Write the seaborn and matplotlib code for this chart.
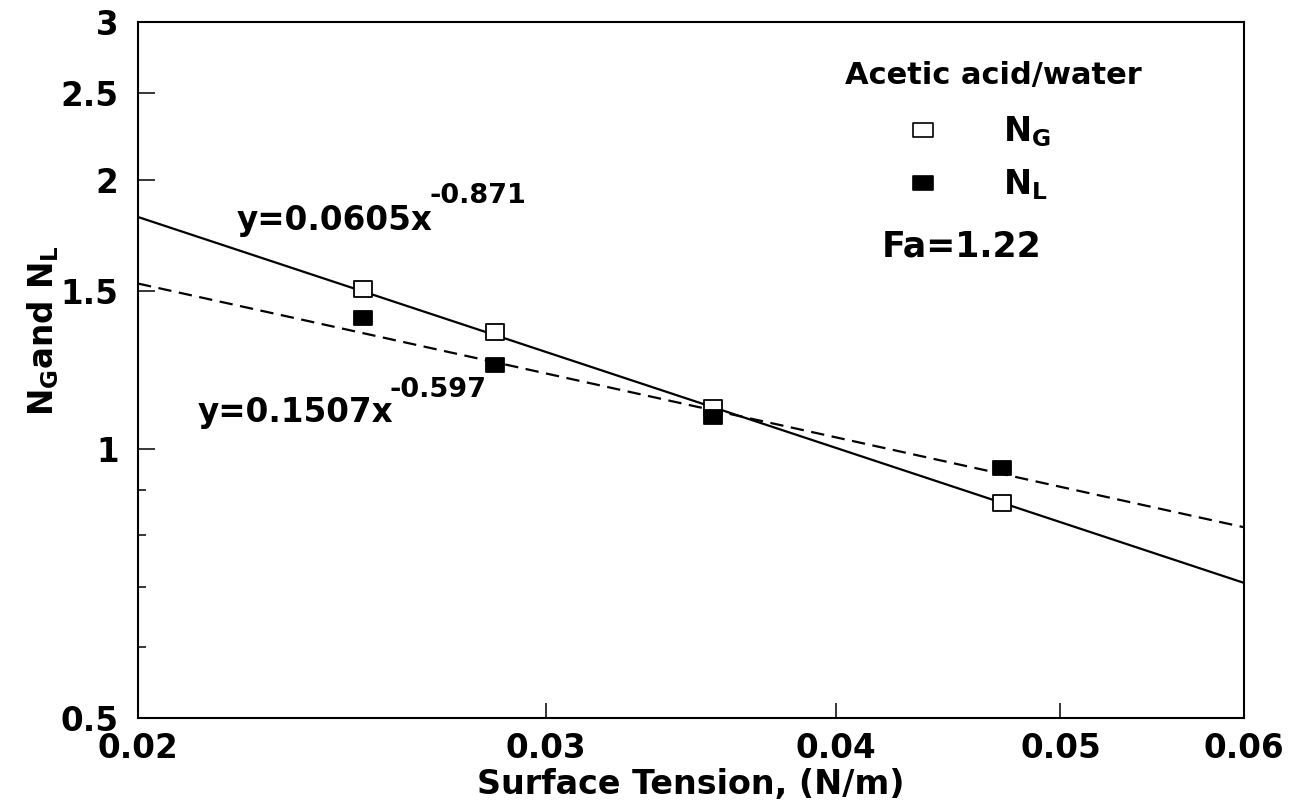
import numpy as np
import pandas as pd
import matplotlib
matplotlib.use("Agg")
import matplotlib.pyplot as plt
import seaborn as sns
from matplotlib.lines import Line2D
from matplotlib.path import Path
from matplotlib.ticker import FixedLocator, FixedFormatter, NullLocator, NullFormatter

# ---------------- data ----------------
surface_tension = [0.0250, 0.0285, 0.0354, 0.0472]
n_g = [1.51, 1.35, 1.11, 0.870]
n_l = [1.40, 1.24, 1.085, 0.951]

fit_x = [0.02, 0.06]
fit_g = [1.816, 0.708]   # y=0.0605x^-0.871
fit_l = [1.53, 0.817]    # y=0.1507x^-0.597

x_ticks = [0.02, 0.03, 0.04, 0.05, 0.06]
x_tick_labels = ["0.02", "0.03", "0.04", "0.05", "0.06"]
y_ticks = [0.5, 1, 1.5, 2, 2.5, 3]
y_tick_labels = ["0.5", "1", "1.5", "2", "2.5", "3"]
y_minor_ticks = [0.6, 0.7, 0.8, 0.9]

# ---------------- style ----------------
sns.set_theme(style="white")
plt.rcParams["font.family"] = ["DejaVu Sans"]
plt.rcParams["font.weight"] = "bold"
plt.rcParams["axes.labelweight"] = "bold"
plt.rcParams["text.color"] = "black"
plt.rcParams["axes.labelcolor"] = "black"
plt.rcParams["xtick.color"] = "black"
plt.rcParams["ytick.color"] = "black"
plt.rcParams["legend.labelcolor"] = "black"
plt.rcParams["mathtext.fontset"] = "dejavusans"
plt.rcParams["mathtext.default"] = "bf"

W, H = 1299, 805
fig = plt.figure(figsize=(W / 100, H / 100), dpi=100)
fig.patch.set_facecolor("white")
ax = fig.add_axes([138 / W, 1 - 718 / H, 1106 / W, 696 / H])
ax.set_facecolor("white")

# ---------------- fitted lines ----------------
fit_df = pd.DataFrame({
    "x": fit_x + fit_x,
    "y": fit_g + fit_l,
    "series": ["N_G"] * len(fit_x) + ["N_L"] * len(fit_x),
})
sns.lineplot(data=fit_df, x="x", y="y", style="series",
             dashes={"N_G": "", "N_L": (6, 3.4)}, color="black",
             linewidth=1.6, legend=False, estimator=None, ax=ax)

# ---------------- markers ----------------
rect = Path([(-1.2, -1), (1.2, -1), (1.2, 1), (-1.2, 1), (-1.2, -1)],
            [Path.MOVETO, Path.LINETO, Path.LINETO, Path.LINETO, Path.CLOSEPOLY])
sns.scatterplot(x=surface_tension, y=n_g, marker=rect, s=175,
                facecolor="white", edgecolor="black", linewidth=1.3,
                zorder=4, ax=ax)
sns.scatterplot(x=surface_tension, y=n_l, marker=rect, s=160,
                facecolor="black", edgecolor="black", linewidth=1.3,
                zorder=5, ax=ax)

# ---------------- axes ----------------
ax.set_xscale("log")
ax.set_yscale("log")
ax.set_xlim(0.02, 0.06)
ax.set_ylim(0.5, 3)
ax.xaxis.set_major_locator(FixedLocator(x_ticks))
ax.xaxis.set_major_formatter(FixedFormatter(x_tick_labels))
ax.xaxis.set_minor_locator(NullLocator())
ax.xaxis.set_minor_formatter(NullFormatter())
ax.yaxis.set_major_locator(FixedLocator(y_ticks))
ax.yaxis.set_major_formatter(FixedFormatter(y_tick_labels))
ax.yaxis.set_minor_locator(FixedLocator(y_minor_ticks))
ax.yaxis.set_minor_formatter(NullFormatter())

ax.tick_params(axis="x", which="major", direction="in", length=11, width=1.1,
               pad=10, labelsize=23.5, color="black", labelcolor="black",
               bottom=True, top=False)
ax.tick_params(axis="y", which="major", direction="in", length=12, width=1.1,
               pad=14, labelsize=23.5, color="black", labelcolor="black",
               left=True, right=False)
ax.tick_params(axis="y", which="minor", direction="in", length=6, width=1.1,
               color="black", left=True, right=False)
for lab in ax.get_xticklabels() + ax.get_yticklabels():
    lab.set_fontweight("bold")

for sp in ax.spines.values():
    sp.set_visible(True)
    sp.set_color("black")
    sp.set_linewidth(1.5)

ax.set_xlabel("Surface Tension, (N/m)", fontsize=24, fontweight="bold",
              color="black", labelpad=2)
ax.set_ylabel(r"$\mathbf{N_G}$and $\mathbf{N_L}$", fontsize=23.5,
              fontweight="bold", color="black")
ax.yaxis.set_label_coords(-0.070, 0.557)

# ---------------- equations ----------------
ax.text(0.0895, 0.701, "y=0.0605x", transform=ax.transAxes, fontsize=23.5,
        fontweight="bold", va="baseline", ha="left", color="black")
ax.text(0.2640, 0.740, "-0.871", transform=ax.transAxes, fontsize=19.5,
        fontweight="bold", va="baseline", ha="left", color="black")
ax.text(0.0542, 0.4253, "y=0.1507x", transform=ax.transAxes, fontsize=23.5,
        fontweight="bold", va="baseline", ha="left", color="black")
ax.text(0.2270, 0.461, "-0.597", transform=ax.transAxes, fontsize=19.5,
        fontweight="bold", va="baseline", ha="left", color="black")

# ---------------- legend ----------------
ax.text(0.773, 0.911, "Acetic acid/water", transform=ax.transAxes,
        fontsize=22, fontweight="bold", va="baseline", ha="center",
        color="black")
leg_rect = Path([(-1.45, -1), (1.45, -1), (1.45, 1), (-1.45, 1), (-1.45, -1)],
                [Path.MOVETO, Path.LINETO, Path.LINETO, Path.LINETO, Path.CLOSEPOLY])
h_g = Line2D([], [], linestyle="none", marker=leg_rect, markersize=14,
             markerfacecolor="white", markeredgecolor="black", markeredgewidth=1.2)
h_l = Line2D([], [], linestyle="none", marker=leg_rect, markersize=14,
             markerfacecolor="black", markeredgecolor="black", markeredgewidth=1.2)
leg = ax.legend(handles=[h_g, h_l], labels=[r"$\mathbf{N_G}$", r"$\mathbf{N_L}$"],
                loc="upper left", bbox_to_anchor=(0.695, 0.867), frameon=False,
                fontsize=24, handlelength=1.0, handletextpad=1.9,
                labelspacing=0.55, borderpad=0, borderaxespad=0)
for t in leg.get_texts():
    t.set_color("black")

ax.text(0.6727, 0.6624, "Fa=1.22", transform=ax.transAxes, fontsize=25,
        fontweight="bold", va="baseline", ha="left", color="black")

fig.savefig("out.png", dpi=100, facecolor="white")
